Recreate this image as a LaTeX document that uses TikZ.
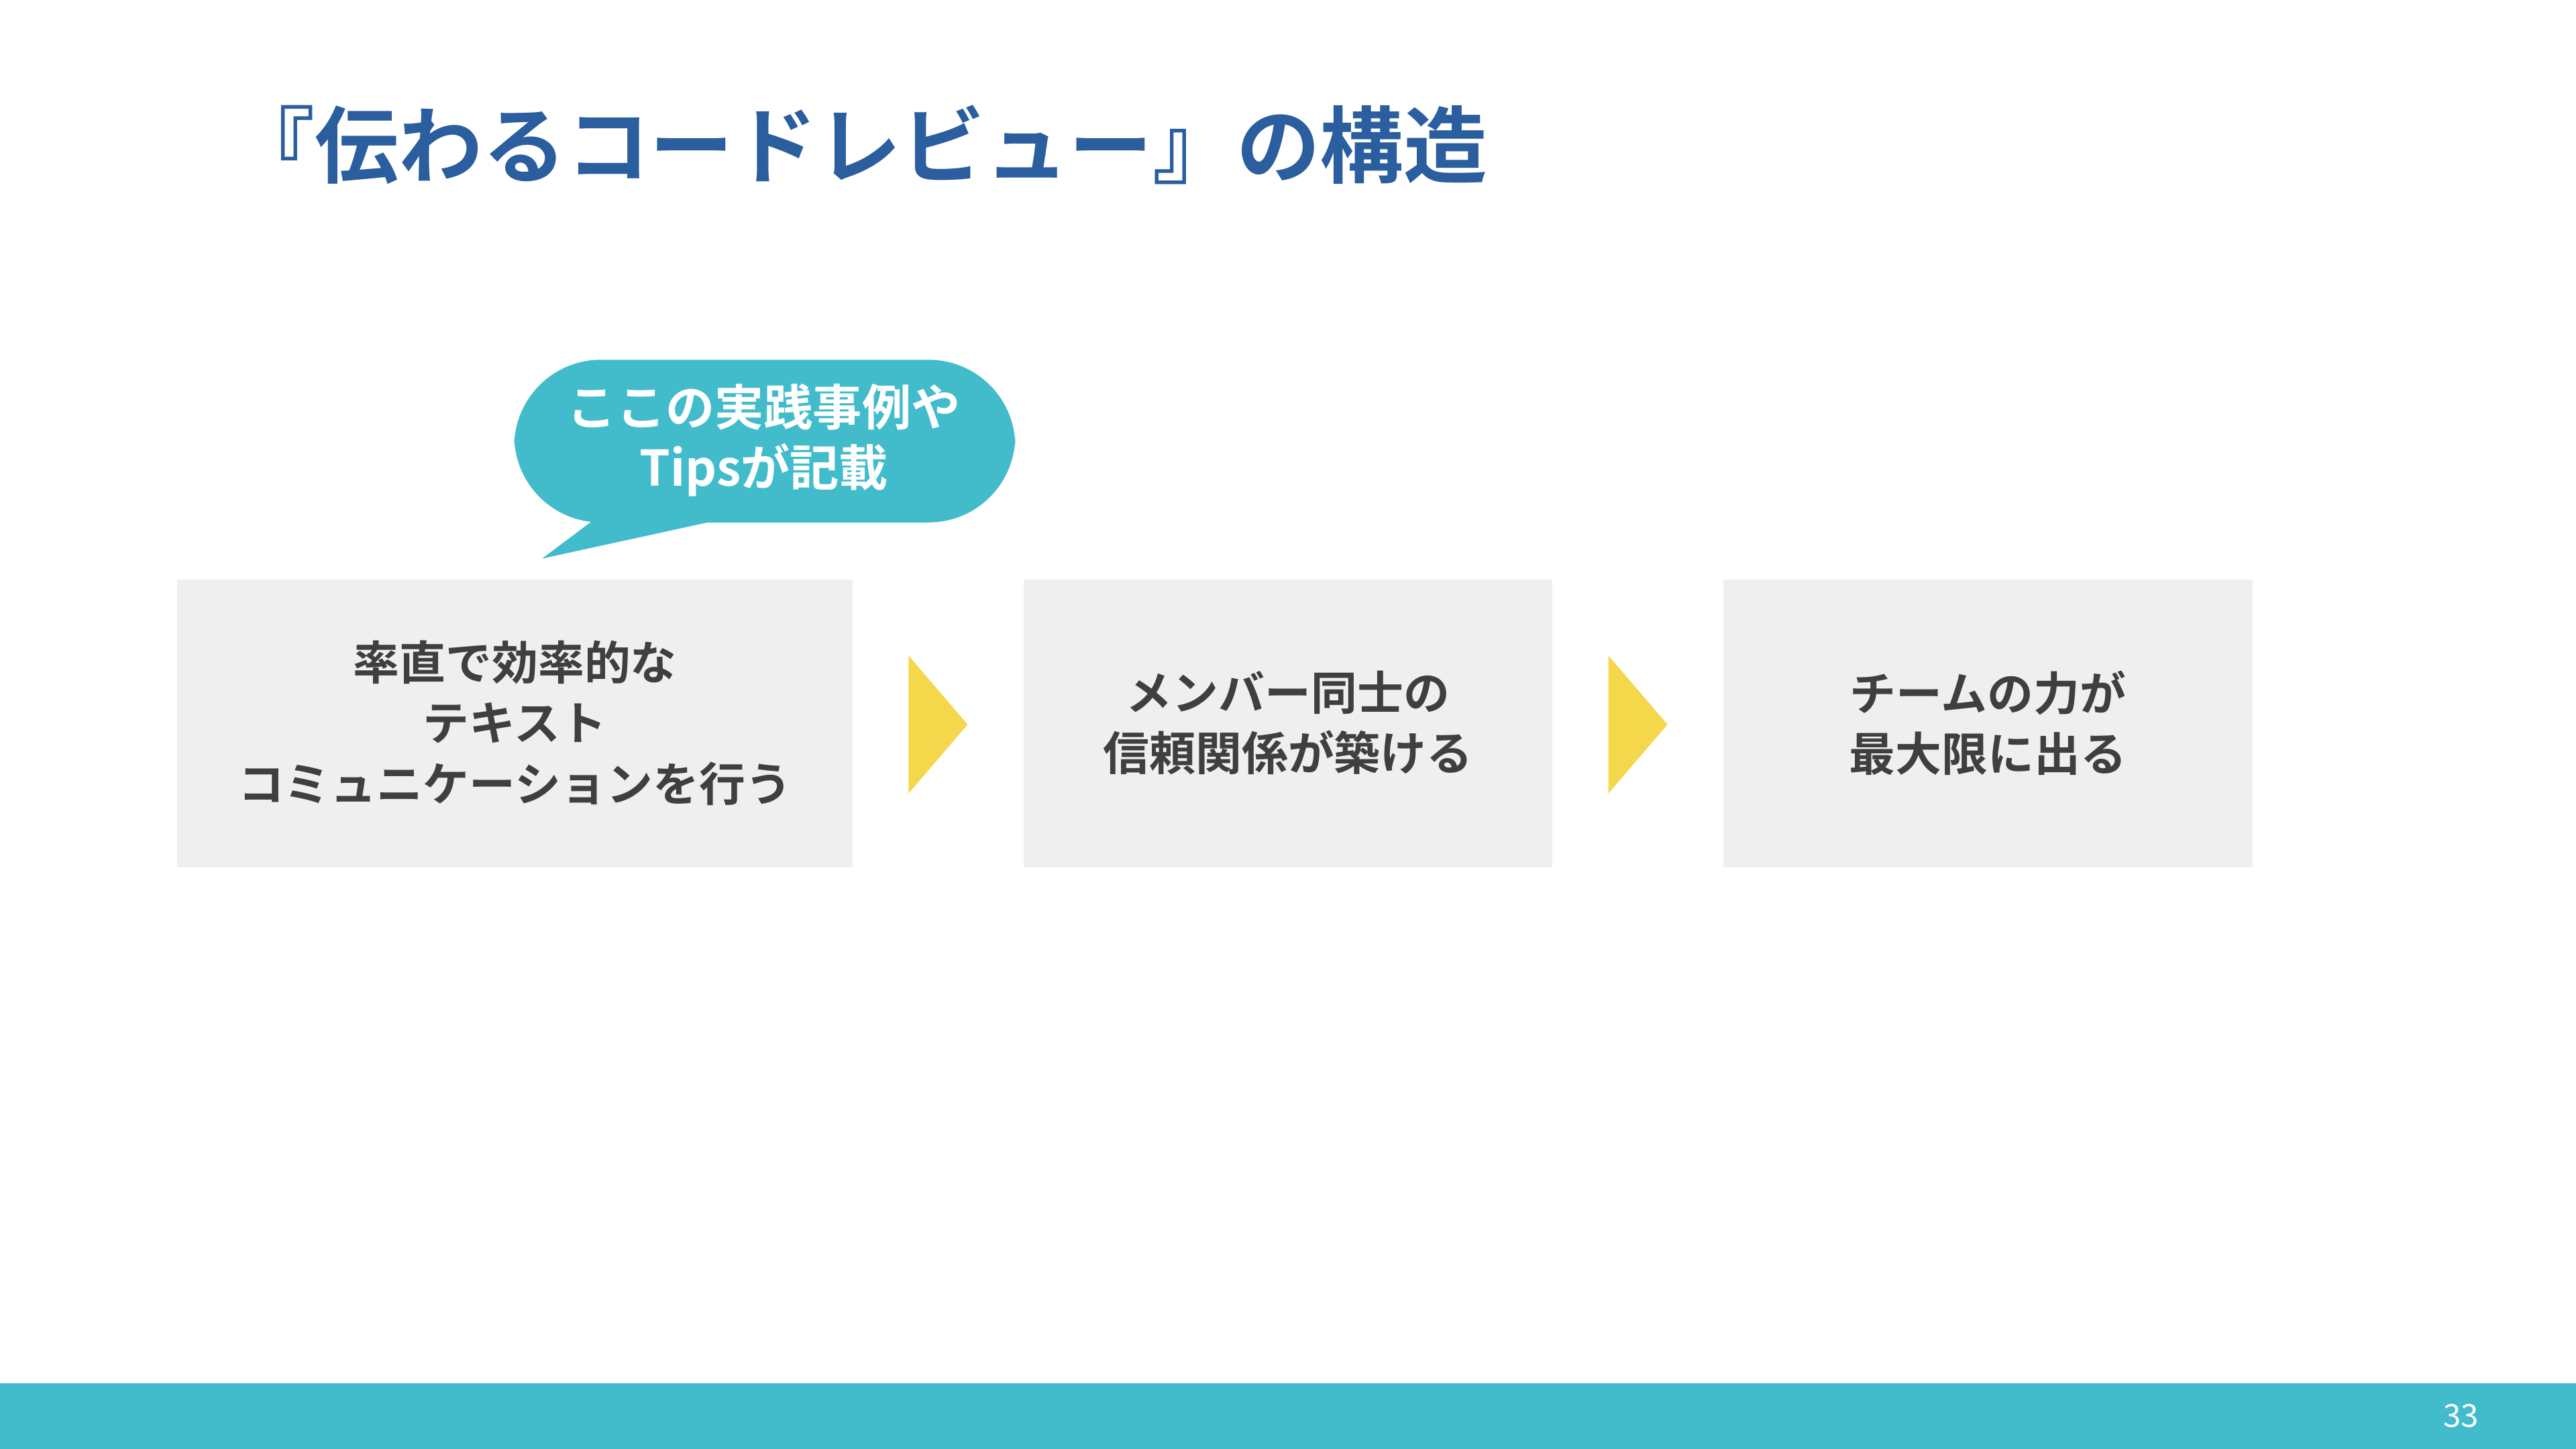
\documentclass[tikz,border=0pt]{standalone}
\usepackage{fontspec}
\newfontfamily\cjk{Noto Sans CJK JP}[BoldFont={Noto Sans CJK JP Bold}]
\definecolor{teal}{HTML}{42BCCB}
\definecolor{titleblue}{HTML}{2A5E9E}
\definecolor{boxgray}{HTML}{EFEFEF}
\definecolor{txt}{HTML}{3F3F3F}
\definecolor{yel}{HTML}{F5D74B}
\begin{document}
\begin{tikzpicture}[x=0.01cm,y=-0.01cm,
  stepbox/.style={fill=boxgray,draw=none,text=txt,font=\cjk\bfseries\fontsize{8}{10.5}\selectfont,align=center,inner sep=0pt},
  arr/.style={fill=yel,draw=none}]
\useasboundingbox (0,0) rectangle (1568,882);
\fill[teal] (0,842) rectangle (1568,882);
\node[text=white,font=\cjk\fontsize{5.5}{6}\selectfont] (pg) at (1498,862) {33};
\node[anchor=west,text=titleblue,font=\cjk\bfseries\fontsize{14.5}{16}\selectfont,inner sep=0pt] (title) at (140,88) {『伝わるコードレビュー』の構造};
\fill[stepbox] (108,353) rectangle (519,528);
\node[stepbox] (b1) at (313.5,440) {率直で効率的な\\テキスト\\コミュニケーションを行う};
\fill[stepbox] (623,353) rectangle (945,528);
\node[stepbox] (b2) at (784,440) {メンバー同士の\\信頼関係が築ける};
\fill[stepbox] (1049,353) rectangle (1371,528);
\node[stepbox] (b3) at (1210,440) {チームの力が\\最大限に出る};
\fill[arr] (553,399) -- (589,441) -- (553,483) -- cycle;
\fill[arr] (979,399) -- (1015,441) -- (979,483) -- cycle;
\fill[teal,rounded corners=15] (313,219) rectangle (618,318);
\fill[teal] (330,340) -- (362,316) -- (440,316) -- cycle;
\node[text=white,font=\cjk\bfseries\fontsize{8.5}{10.5}\selectfont,align=center] (bub) at (465,268) {ここの実践事例や\\Tipsが記載};
\end{tikzpicture}
\end{document}
